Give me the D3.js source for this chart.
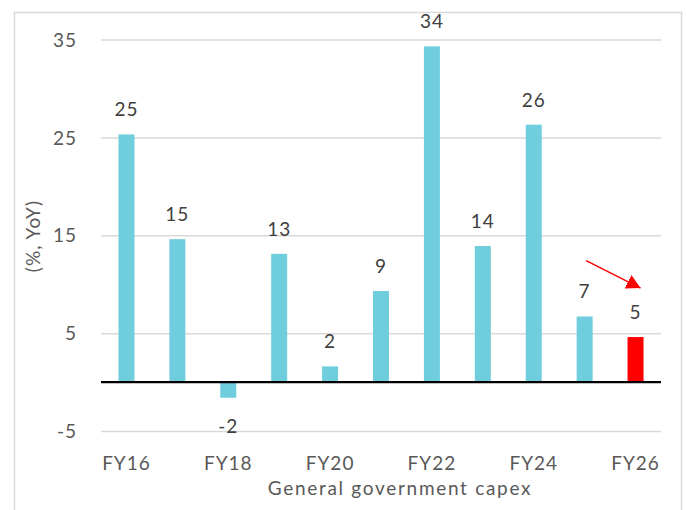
<!DOCTYPE html>
<html>
<head>
<meta charset="utf-8">
<script src="https://cdn.jsdelivr.net/npm/d3@7/dist/d3.min.js"></script>
<style>
  html, body { margin: 0; padding: 0; background: #fff; }
  svg { display: block; }
  text { font-family: Lato, "Open Sans", sans-serif; letter-spacing: 1px; }
</style>
</head>
<body>
<svg id="chart" width="686" height="510"></svg>
<script>
// General government capex growth, % YoY
const years = ["FY16", "FY17", "FY18", "FY19", "FY20", "FY21", "FY22", "FY23", "FY24", "FY25", "FY26"];
const growth = [25.3, 14.6, -1.6, 13.1, 1.6, 9.3, 34.3, 13.9, 26.3, 6.7, 4.6];
const shownTicks = ["FY16", "FY18", "FY20", "FY22", "FY24", "FY26"];
const yTicks = [-5, 5, 15, 25, 35];
const highlightYear = "FY26";
// trend arrow, from FY25 toward FY26 (value units)
const arrowFrom = { yr: "FY25", v: 12.4 };
const arrowTo = { yr: "FY26", v: 9.6 };

const svg = d3.select("#chart");
const margin = { left: 101, right: 25 };
const W = 686;
const fmt = v => String(Math.round(v));

// outer frame
svg.append("rect")
  .attr("x", 14.5).attr("y", 12.5)
  .attr("width", 667).attr("height", 505)
  .attr("fill", "none").attr("stroke", "#d9d9d9").attr("stroke-width", 1.5);

const x = d3.scaleBand()
  .domain(years)
  .range([margin.left, W - margin.right])
  .paddingInner(0.686).paddingOuter(0.343);

const y = d3.scaleLinear()
  .domain([-5, 35])
  .range([431, 39.5]);

// gridlines + y tick labels
const yAxis = d3.axisLeft(y)
  .tickValues(yTicks)
  .tickSize(-(W - margin.right - margin.left))
  .tickPadding(24)
  .tickFormat(fmt);

const gy = svg.append("g")
  .attr("transform", `translate(${margin.left},0)`)
  .call(yAxis);
gy.select(".domain").remove();
gy.selectAll(".tick line").attr("stroke", "#d9d9d9").attr("stroke-width", 1.5);
gy.selectAll(".tick text")
  .attr("fill", "#595959").attr("font-size", "19px").attr("dy", "0.35em")
  .attr("x", -24);

// x axis labels (every other year)
const xAxis = d3.axisBottom(x)
  .tickValues(shownTicks)
  .tickSize(0)
  .tickPadding(0);
const gx = svg.append("g")
  .attr("transform", `translate(0,452)`)
  .call(xAxis);
gx.select(".domain").remove();
gx.selectAll(".tick text")
  .attr("fill", "#595959").attr("font-size", "19px")
  .attr("dy", null).attr("y", 18);

const rows = years.map((yr, i) => ({ yr, v: growth[i] }));

// bars
svg.append("g").selectAll("rect")
  .data(rows)
  .join("rect")
  .attr("x", d => x(d.yr))
  .attr("width", x.bandwidth())
  .attr("y", d => y(Math.max(0, d.v)))
  .attr("height", d => Math.abs(y(d.v) - y(0)))
  .attr("fill", d => d.yr === highlightYear ? "#ff0000" : "#70cddd");

// zero line
svg.append("line")
  .attr("x1", margin.left).attr("x2", W - margin.right)
  .attr("y1", y(0)).attr("y2", y(0))
  .attr("stroke", "#000").attr("stroke-width", 2.2);

// data labels
svg.append("g").selectAll("text")
  .data(rows)
  .join("text")
  .attr("x", d => x(d.yr) + x.bandwidth() / 2)
  .attr("y", d => d.v >= 0 ? y(d.v) - 18 : y(d.v) + 35)
  .attr("text-anchor", "middle")
  .attr("fill", "#404040").attr("font-size", "19px")
  .text(d => fmt(d.v));

// y axis title
svg.append("text")
  .attr("transform", "translate(40,236) rotate(-90)")
  .attr("text-anchor", "middle")
  .attr("fill", "#595959").attr("font-size", "19px")
  .text("(%, YoY)");

// x axis title
svg.append("text")
  .attr("x", 400).attr("y", 495)
  .attr("text-anchor", "middle")
  .attr("fill", "#595959").attr("font-size", "19px")
  .style("letter-spacing", "1.7px")
  .text("General government capex");

// downward trend arrow pointing at the latest year
svg.append("defs").append("marker")
  .attr("id", "arrowhead")
  .attr("viewBox", "0 0 14 15")
  .attr("refX", 14).attr("refY", 7.5)
  .attr("markerWidth", 14).attr("markerHeight", 15)
  .attr("markerUnits", "userSpaceOnUse")
  .attr("orient", "auto")
  .append("path")
  .attr("d", "M0,0 L14,7.5 L0,15 Z")
  .attr("fill", "#ff0000");

svg.append("line")
  .attr("x1", x(arrowFrom.yr) + x.bandwidth() / 2 + 1.5)
  .attr("y1", y(arrowFrom.v))
  .attr("x2", x(arrowTo.yr) + x.bandwidth() / 2 + 5)
  .attr("y2", y(arrowTo.v))
  .attr("stroke", "#ff0000").attr("stroke-width", 1.5)
  .attr("marker-end", "url(#arrowhead)");
</script>
</body>
</html>
